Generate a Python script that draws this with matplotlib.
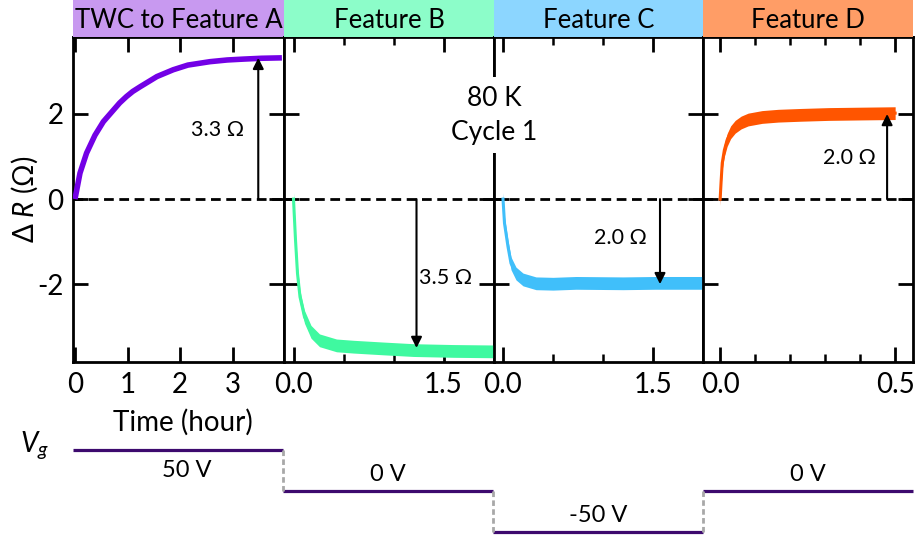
import matplotlib.pyplot as plt
import numpy as np

plt.rcParams['font.family'] = ['Lato', 'DejaVu Sans']
plt.rcParams['mathtext.fontset'] = 'custom'
plt.rcParams['mathtext.rm'] = 'Lato'
plt.rcParams['mathtext.it'] = 'Lato:italic'

# data (time in hours, delta R in ohm)
titles = ['TWC to Feature A', 'Feature B', 'Feature C', 'Feature D']

tA = [0, 0.095, 0.22, 0.38, 0.54, 0.73, 0.85, 0.98, 1.1, 1.24, 1.56, 1.87, 2.15, 2.57, 2.9, 3.2, 3.55, 3.94]
dRA = [0, 0.61, 1.08, 1.5, 1.82, 2.09, 2.26, 2.41, 2.53, 2.64, 2.88, 3.04, 3.15, 3.23, 3.27, 3.29, 3.31, 3.32]

tB = [0.0, 0.02, 0.04, 0.065, 0.11, 0.175, 0.26, 0.43, 0.6, 0.89, 1.2, 1.6, 2.0]
dRB = [0, -0.96, -1.75, -2.3, -2.77, -3.12, -3.32, -3.44, -3.47, -3.51, -3.55, -3.57, -3.58]

tC = [0.0, 0.015, 0.05, 0.08, 0.13, 0.2, 0.33, 0.5, 0.73, 1.2, 1.52, 2.0]
dRC = [0, -0.57, -1.12, -1.51, -1.75, -1.89, -1.98, -1.99, -1.97, -1.98, -1.97, -1.97]

tD = [0.0, 0.003, 0.006, 0.012, 0.02, 0.03, 0.043, 0.06, 0.08, 0.12, 0.166, 0.23, 0.31, 0.4, 0.5]
dRD = [0, 0.45, 0.85, 1.15, 1.39, 1.57, 1.7, 1.8, 1.87, 1.93, 1.96, 1.98, 2.0, 2.01, 2.02]

# arrows: where they sit and the change they mark
arrow_t = [3.49, 1.23, 1.57, 0.477]
arrow_dR = [3.32, -3.5, -2.0, 2.0]
arrow_txt = ['3.3 Ω', '3.5 Ω', '2.0 Ω', '2.0 Ω']
txt_t = [2.72, 1.52, 1.17, 0.37]
txt_dR = [1.62, -1.86, -0.92, 0.96]

# gate voltage steps
vg_levels = [50, 0, -50, 0]
vg_labels = ['50 V', '0 V', '-50 V', '0 V']

head_cols = ['#C899F0', '#8CFDC9', '#8CD6FF', '#FF9D66']
line_cols = ['#7300E6', '#3FF9A0', '#40BFFA', '#FF5500']

W, H = 915, 539
fig = plt.figure(figsize=(W/100, H/100), dpi=100)

def px_axes(x0, y0, x1, y1):
    return fig.add_axes([x0/W, 1-y1/H, (x1-x0)/W, (y1-y0)/H])

edges = [73, 284, 494, 703, 913]
xlims = [(-0.038, 3.98), (-0.095, 2.005), (-0.09, 2.0), (-0.049, 0.551)]
series = [(tA, dRA), (tB, dRB), (tC, dRC), (tD, dRD)]
band = 0.15

for i in range(4):
    ax = px_axes(edges[i], 37, edges[i+1], 362)
    t, dR = series[i]
    if i == 0:
        ax.plot(t, dR, color=line_cols[i], lw=4, solid_capstyle='butt',
                solid_joinstyle='round', zorder=3)
    else:
        dR = np.array(dR)
        ax.fill_between(t, dR-band, dR+band, color=line_cols[i], lw=0, zorder=3)
        ax.plot(t, dR, color=line_cols[i], lw=2.2, zorder=3)
    ax.axhline(0, color='black', lw=2, ls=(0, (3.5, 2)), zorder=2)
    ax.annotate('', xy=(arrow_t[i], arrow_dR[i]), xytext=(arrow_t[i], 0),
                arrowprops=dict(arrowstyle='-|>', color='black', lw=1.5,
                                mutation_scale=16, shrinkA=0, shrinkB=0), zorder=4)
    ax.text(txt_t[i], txt_dR[i], arrow_txt[i], fontsize=15.5, ha='center', va='center')
    ax.set_xlim(*xlims[i])
    ax.set_ylim(-3.83, 3.81)
    ax.set_yticks([-2, 0, 2])
    if i == 0:
        ax.set_xticks([0, 1, 2, 3])
        ax.set_xticklabels(['0', '1', '2', '3'])
        ax.set_yticklabels(['-2', '0', '2'])
        ax.set_xlabel('Time (hour)', fontsize=20)
        ax.xaxis.set_label_coords(0.52, -0.145)
        ax.set_ylabel('Δ $\\it{R}$ (Ω)', fontsize=20)
        ax.yaxis.set_label_coords(-0.155, 0.5)
    else:
        ax.set_yticklabels([])
        if i == 3:
            ax.set_xticks([0, 0.5])
            ax.set_xticklabels(['0.0', '0.5'])
            ax.set_xticks([0.1, 0.2, 0.3, 0.4], minor=True)
        else:
            ax.set_xticks([0, 1.5])
            ax.set_xticklabels(['0.0', '1.5'])
            ax.set_xticks([0.5, 1.0], minor=True)
    ax.tick_params(which='both', direction='in', top=True, right=True, labelsize=20)
    ax.tick_params(which='major', length=11, width=2, pad=7)
    ax.tick_params(which='minor', length=5.5, width=1.8)
    for s in ax.spines.values():
        s.set_linewidth(2)

    hx = px_axes(edges[i], 0, edges[i+1], 37)
    hx.set_facecolor(head_cols[i])
    hx.set_xticks([])
    hx.set_yticks([])
    for s in hx.spines.values():
        s.set_visible(False)
    hx.text(0.5, 0.45, titles[i], fontsize=18.5, ha='center', va='center', transform=hx.transAxes)

fig.text(494/W, 1-115/H, '80 K\nCycle 1', fontsize=19, ha='center', va='center',
         linespacing=1.45, zorder=10,
         bbox=dict(facecolor='white', edgecolor='none', pad=6))

# gate voltage panel
vx = px_axes(73, 439, 913, 539)
vx.set_xlim(0, 4)
vx.set_ylim(-58.5, 63.4)
vx.axis('off')
for k, lev in enumerate(vg_levels):
    vx.plot([k, k+1], [lev, lev], color='#3D0A6E', lw=2.3, solid_capstyle='butt', clip_on=False)
    if k > 0:
        vx.plot([k, k], [vg_levels[k-1], lev], color='#A8A8A8', lw=2, ls=(0, (2, 1.2)), clip_on=False)
    if k == 0:
        vx.annotate(vg_labels[k], (k+0.5, lev), xytext=(6, -15), textcoords='offset points',
                    fontsize=17, ha='center', va='center')
    else:
        vx.annotate(vg_labels[k], (k+0.5, lev), xytext=(0, 12), textcoords='offset points',
                    fontsize=17, ha='center', va='center')
fig.text(35/W, 1-445/H, '$V_g$', fontsize=20, ha='center', va='center')

fig.savefig('out.png', dpi=100)
